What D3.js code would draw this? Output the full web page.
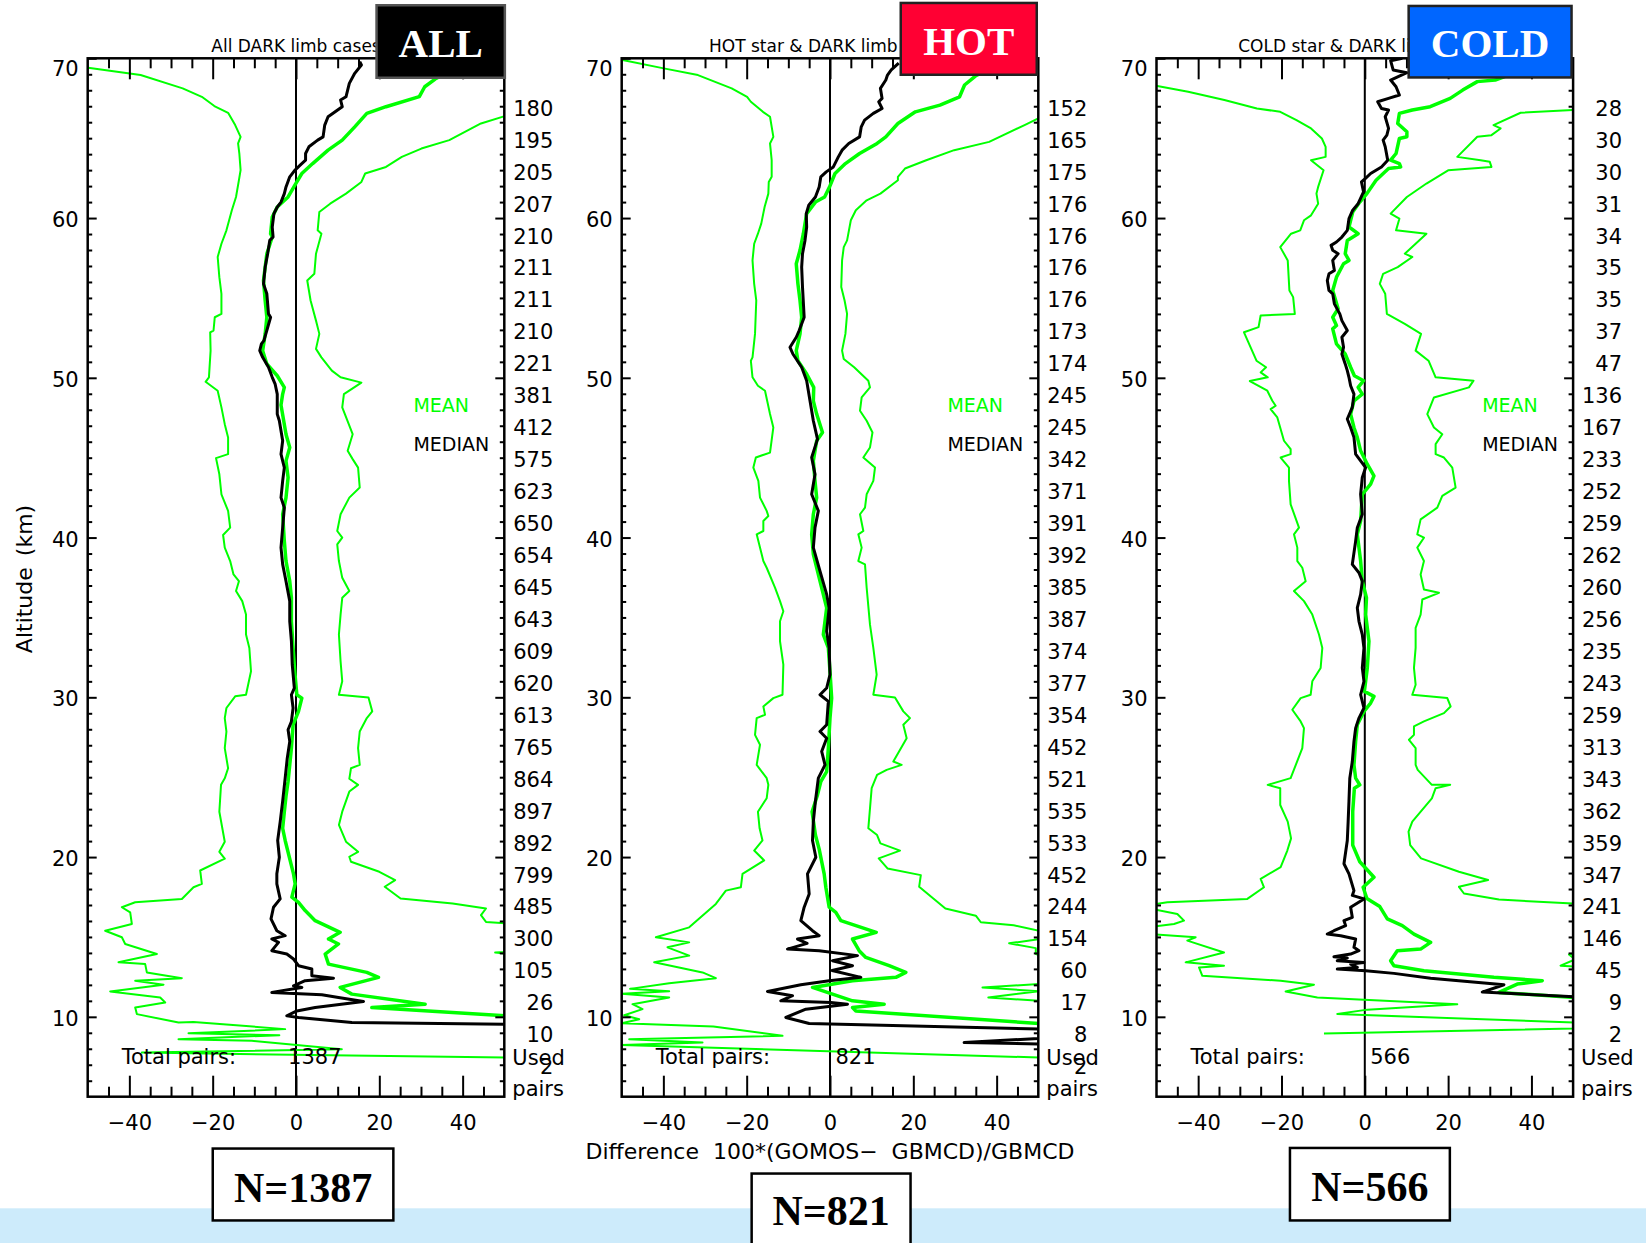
<!DOCTYPE html>
<html><head><meta charset="utf-8">
<script src="https://cdnjs.cloudflare.com/ajax/libs/d3/7.8.5/d3.min.js"></script>
<style>
html,body{margin:0;padding:0;background:#fff;}
svg{display:block;}
text{font-family:"DejaVu Sans",Verdana,sans-serif;}
text.serif{font-family:"Liberation Serif","Times New Roman",serif;font-weight:bold;}
</style></head><body>
<svg id="chart" width="1646" height="1243"></svg>
<script>
// ---------------- DATA ----------------
const panelKeys = ["ALL", "HOT", "COLD"];
const panelTitles = ["All DARK limb cases", "HOT star & DARK limb cases", "COLD star & DARK limb cases"];
const boxLabels = ["ALL", "HOT", "COLD"];
const boxColors = ["#000000", "#ff0033", "#0066ff"];
const nLabels = ["N=1387", "N=821", "N=566"];
const totalPairs = [1387, 821, 566];
const xTickLabels = [-40, -20, 0, 20, 40];
const altTickLabels = [10, 20, 30, 40, 50, 60, 70];
const pairAlts = [67,65,63,61,59,57,55,53,51,49,47,45,43,41,39,37,35,33,31,29,27,25,23,21,19,17,15,13,11,9,7];

const usedAll  = [180,195,205,207,210,211,211,210,221,381,412,575,623,650,654,645,643,609,620,613,765,864,897,892,799,485,300,105,26,10,2];
const usedHot  = [152,165,175,176,176,176,176,173,174,245,245,342,371,391,392,385,387,374,377,354,452,521,535,533,452,244,154,60,17,8,2];
const usedCold = [28,30,30,31,34,35,35,37,47,136,167,233,252,259,262,260,256,235,243,259,313,343,362,359,347,241,146,45,9,2];

// series as [difference %, altitude km]
const allLow = [[-49.9,69.41],[-37.3,68.95],[-27.2,68.12],[-22.6,67.59],[-19.6,67.01],[-16.3,66.59],[-14.6,65.82],[-13.3,65.08],[-13.9,64.67],[-13.6,64.04],[-13.3,63.0],[-13.7,62.37],[-14.4,61.32],[-15.4,60.49],[-16.7,59.23],[-17.9,58.39],[-18.8,57.56],[-18.4,56.30],[-17.9,55.26],[-17.9,54.0],[-19.5,53.79],[-19.8,52.96],[-20.6,52.85],[-20.5,51.70],[-20.9,50.03],[-21.7,49.75],[-18.8,49.19],[-17.9,48.15],[-17.1,47.1],[-16.3,46.27],[-16.3,45.22],[-19.2,44.97],[-18.4,43.96],[-17.9,42.71],[-16.3,41.67],[-15.8,40.62],[-17.5,40.16],[-17.1,39.37],[-15.8,38.53],[-15.0,37.69],[-13.7,37.27],[-14.4,36.65],[-12.9,36.02],[-12.0,35.18],[-12.0,33.93],[-11.2,33.09],[-10.8,31.63],[-12.0,30.16],[-14.6,30.06],[-16.7,29.33],[-17.1,28.7],[-16.7,27.86],[-17.1,26.82],[-16.3,25.56],[-17.1,24.93],[-18.0,24.52],[-18.4,22.84],[-17.1,20.96],[-18.4,20.33],[-17.1,19.9],[-23.0,19.16],[-22.6,18.32],[-24.6,18.11],[-27.4,17.38],[-38.6,17.17],[-41.8,16.86],[-39.8,16.54],[-39.4,15.81],[-45.8,15.39],[-41.8,14.98],[-41.0,14.56],[-33.4,13.93],[-42.6,13.41],[-36.2,13.30],[-35.8,12.78],[-27.4,12.42],[-38.6,12.26],[-31.8,12.01],[-44.6,11.59],[-32.6,11.21],[-31.4,10.90],[-38.6,10.58],[-38.2,10.17],[-28.2,9.64],[-24.6,9.68],[-2.6,9.23],[-25.8,8.97],[-4.0,8.85],[-28.2,8.6],[-10.6,8.5],[11.0,7.97],[-37.0,7.76],[55,7.43]];
const allHigh = [[60,67.0],[50.1,66.38],[44.4,65.92],[36.8,64.88],[30.1,64.35],[25.4,63.83],[21.6,63.2],[16.6,62.79],[15.7,62.26],[12.0,61.53],[8.2,60.9],[5.6,60.38],[5.2,59.23],[6.1,59.02],[4.8,57.77],[4.4,56.51],[2.7,56.09],[3.5,54.84],[4.8,53.58],[5.6,52.75],[4.8,51.81],[6.1,51.28],[8.6,50.45],[10.7,50.03],[15.7,49.7],[11.5,48.98],[11.1,48.15],[13.6,46.47],[12.4,45.43],[13.6,44.91],[14.9,44.38],[15.3,43.13],[12.8,42.5],[10.7,41.46],[9.9,40.41],[11.1,39.99],[9.9,39.57],[10.3,38.53],[11.1,37.48],[12.8,36.65],[11.1,36.23],[10.7,35.18],[10.3,33.93],[10.7,32.25],[11.1,31.0],[10.3,30.16],[17.4,29.99],[18.3,29.12],[17.0,28.7],[15.3,27.86],[14.9,26.82],[15.3,25.77],[13.2,25.56],[12.8,24.9],[14.9,24.52],[12.8,24.1],[11.1,22.84],[10.3,22.01],[12.0,20.96],[14.9,20.33],[12.8,20.02],[13.2,19.71],[20.0,19.08],[23.8,18.56],[21.3,18.14],[25.1,17.41],[37.6,17.09],[45.6,16.78],[44.4,16.36],[45.6,15.94],[50.2,15.85],[60,15.4],[60,14.2],[47.8,14.03],[60,13.7],[70,12]];
const allMean = [[40,69.6],[33.4,68.70],[30.9,68.22],[29.6,67.6],[21.6,66.97],[17.0,66.55],[14.1,65.71],[11.1,64.88],[7.7,64.25],[4.0,63.41],[1.4,62.79],[-0.3,62.05],[-1.9,61.32],[-4.5,60.69],[-5.7,60.07],[-6.1,59.02],[-5.7,58.81],[-7.0,57.77],[-7.8,56.09],[-7.4,54.84],[-7.0,53.79],[-7.4,52.75],[-8.0,51.70],[-7.0,50.87],[-4.5,50.13],[-2.8,49.4],[-3.2,48.98],[-3.6,48.3],[-2.4,46.47],[-1.5,45.64],[-2.4,44.8],[-1.9,43.76],[-2.4,42.5],[-3.2,41.46],[-2.8,39.78],[-2.4,38.53],[-1.5,37.27],[-1.1,36.23],[-1.1,34.76],[-0.7,33.09],[-0.3,31.63],[0.2,30.16],[1.4,29.95],[0.6,29.12],[-0.7,28.28],[-1.1,26.82],[-1.5,25.77],[-1.9,24.73],[-2.4,23.8],[-2.8,22.84],[-3.2,21.8],[-2.6,21.04],[-0.6,18.95],[-0.2,18.32],[-1.0,17.49],[0.6,17.17],[2.2,16.65],[4.6,16.02],[10.6,15.29],[7.8,14.87],[10.2,14.56],[7.0,13.93],[7.8,13.30],[17.0,12.78],[19.8,12.47],[10.6,11.84],[13.4,11.42],[31.0,10.79],[18.2,10.58],[50.2,10.06],[70,9.8]];
const allMedian = [[15.3,69.79],[15.7,69.58],[14.1,69.06],[12.8,68.43],[12.0,67.59],[10.7,67.39],[11.1,66.97],[9.4,66.65],[7.7,66.34],[6.9,65.82],[6.5,65.08],[5.2,64.88],[3.1,64.46],[2.3,64.04],[2.3,63.62],[1.0,63.31],[-0.3,62.99],[-1.5,62.58],[-2.4,61.95],[-2.8,61.53],[-3.6,61.0],[-4.5,60.69],[-5.3,60.28],[-5.7,59.44],[-5.5,58.81],[-6.3,58.6],[-6.8,57.77],[-7.4,56.93],[-7.8,55.88],[-7.0,55.26],[-6.6,54.0],[-6.1,53.79],[-7.7,52.33],[-8.3,52.12],[-8.7,51.70],[-8.0,51.28],[-6.6,50.66],[-5.7,50.03],[-5.0,49.6],[-4.5,48.98],[-4.5,47.73],[-4.0,47.31],[-3.2,46.06],[-3.6,45.22],[-2.8,44.38],[-3.2,43.55],[-3.6,42.5],[-2.8,41.87],[-3.2,40.62],[-3.6,39.37],[-3.2,38.32],[-2.4,37.27],[-1.5,36.02],[-1.5,34.76],[-1.1,33.51],[-0.9,32.04],[-0.4,30.58],[-1.1,30.16],[-0.7,29.33],[-1.1,28.49],[-1.9,27.97],[-1.5,27.24],[-2.1,26.19],[-2.6,24.94],[-3.2,23.5],[-3.8,22.2],[-4.4,21.04],[-4.0,19.99],[-4.6,18.95],[-4.6,18.32],[-3.8,17.38],[-5.4,16.86],[-6.0,16.13],[-4.6,15.39],[-2.6,15.08],[-5.8,14.87],[-4.2,14.66],[-5.8,14.14],[-2.2,13.93],[-0.6,13.62],[0.6,13.20],[3.8,12.99],[3.8,12.57],[9.0,12.42],[2.2,12.26],[-0.6,11.94],[1.4,11.84],[-5.8,11.53],[6.2,11.38],[10.2,11.21],[16.2,10.96],[4.6,10.58],[0.2,10.37],[-2.2,10.06],[0.6,9.96],[13.4,9.64],[50.2,9.54],[60,9.5]];

const hotLow = [[-49.8,69.9],[-39.9,69.37],[-31.7,68.95],[-23.6,68.12],[-19.9,67.59],[-19.0,67.28],[-16.1,66.65],[-14.4,66.34],[-13.6,65.08],[-14.4,64.67],[-14.0,63.62],[-14.0,62.58],[-14.7,62.26],[-14.8,61.53],[-15.7,60.69],[-16.5,59.65],[-17.3,59.02],[-18.2,58.39],[-18.6,57.35],[-18.2,55.88],[-17.7,54.84],[-18.0,52.75],[-18.6,51.28],[-19.0,51.07],[-18.6,50.03],[-17.3,49.5],[-15.6,49.19],[-14.4,47.73],[-13.6,46.89],[-14.4,45.32],[-17.8,45.01],[-18.4,44.38],[-17.2,43.55],[-16.8,42.5],[-15.2,41.67],[-14.8,41.35],[-16.0,41.04],[-16.0,40.41],[-17.6,40.2],[-16.4,38.95],[-16.0,38.53],[-15.2,38.11],[-13.2,36.86],[-12.0,36.02],[-11.2,35.39],[-12.0,34.76],[-12.0,33.51],[-11.2,32.04],[-11.4,30.16],[-13.6,29.95],[-16.0,29.43],[-15.6,28.91],[-17.6,28.7],[-18.0,27.65],[-16.8,27.03],[-17.6,25.77],[-15.2,24.94],[-14.8,24.52],[-15.2,23.68],[-17.3,22.84],[-16.9,21.80],[-16.2,21.04],[-18.2,20.41],[-15.8,19.79],[-21.0,18.95],[-21.4,18.11],[-25.0,17.9],[-27.4,17.07],[-33.8,15.6],[-41.8,14.98],[-33.8,14.66],[-39.0,14.35],[-33.8,13.83],[-42.2,13.41],[-30.6,12.78],[-27.4,12.42],[-38.6,12.1],[-48,11.75],[-38.6,11.6],[-50,11.45],[-38.6,11.21],[-47.4,10.79],[-45.0,10.48],[-49.4,10.1],[-45.8,9.85],[-50,9.6],[-28,9.4],[-11.4,8.81],[-48.2,8.6],[-30.6,8.39],[-50,8.24],[50.2,7.45],[60,7.43]];
const hotHigh = [[60,67],[50.0,66.24],[46.7,65.82],[38.2,64.77],[29.8,64.25],[23.1,63.62],[18.0,63.1],[16.3,62.58],[16.3,62.37],[12.1,61.53],[8.8,61.11],[6.2,60.49],[5.0,59.86],[4.1,58.6],[3.3,58.18],[2.9,57.35],[2.7,55.68],[3.5,54.84],[4.1,54.0],[3.7,52.75],[2.9,51.70],[3.3,51.18],[5.8,50.66],[9.2,49.82],[9.6,49.40],[7.6,48.77],[7.2,47.94],[8.8,47.31],[10.2,46.58],[9.6,45.64],[8.0,45.01],[10.8,44.38],[10.4,43.55],[8.8,42.71],[8.4,41.87],[7.2,41.46],[8.0,40.41],[6.8,40.2],[7.6,39.37],[6.8,38.53],[8.4,38.32],[8.8,36.86],[9.6,34.55],[10.4,33.09],[11.2,31.42],[10.4,30.16],[15.6,29.99],[17.6,29.12],[19.2,28.7],[17.6,28.28],[18.4,27.44],[15.2,25.98],[17.2,25.77],[13.6,25.46],[11.3,25.14],[10.0,24.31],[9.6,23.05],[9.2,21.8],[11.3,21.38],[12.1,20.86],[16.8,20.4],[11.7,19.92],[13.8,19.29],[21.8,18.87],[21.4,18.14],[24.8,17.41],[27.7,16.78],[35.0,16.33],[36.2,15.92],[44.1,15.73],[50.2,15.39],[55,15.2],[50,14.85],[43.0,14.6],[49.4,14.3],[49.4,13.93],[55,13.5],[55,12.2],[50.2,12.05],[36.6,11.84],[50.2,11.6],[38.0,11.21],[50.2,11.0],[60,10.5]];
const hotMean = [[38,69.3],[34.9,68.89],[32.3,68.33],[31.1,67.59],[26.4,67.07],[20.5,66.65],[16.3,65.92],[13.4,65.08],[11.3,64.67],[7.1,64.04],[3.7,63.41],[1.2,62.79],[-0.1,61.95],[-1.3,61.32],[-3.5,61.0],[-5.6,60.28],[-6.4,59.02],[-7.2,57.98],[-8.1,57.14],[-7.7,55.88],[-7.2,54.84],[-6.8,53.79],[-7.2,52.75],[-8.1,51.70],[-7.7,51.07],[-5.6,50.24],[-3.9,49.4],[-4.0,48.56],[-3.2,47.73],[-1.8,46.58],[-3.2,46.06],[-4.0,44.8],[-3.6,43.55],[-3.2,42.5],[-4.0,41.46],[-4.4,40.2],[-4.0,38.95],[-2.4,37.27],[-0.8,35.6],[-1.6,33.93],[-0.4,33.09],[0.0,31.63],[0.4,29.95],[0.0,28.7],[-0.4,26.82],[-0.8,25.35],[-2.2,24.73],[-3.0,23.89],[-4.3,22.84],[-3.5,21.38],[-2.6,20.5],[-1.4,18.95],[-1.0,18.11],[-0.2,16.86],[1.4,16.54],[2.6,16.02],[11.1,15.29],[5.4,14.87],[7.0,14.14],[8.6,13.72],[14.2,13.20],[18.2,12.78],[15.8,12.47],[5.4,12.26],[-4.2,11.84],[5.4,11.0],[13.0,10.79],[5.4,10.58],[6.2,10.37],[50.2,9.58],[70,9.3]];
const hotMedian = [[16.5,69.7],[14.7,69.27],[13.8,68.95],[13.4,68.64],[12.1,68.12],[12.5,67.49],[11.7,67.28],[12.5,66.86],[10.4,66.55],[8.3,66.13],[7.5,65.71],[7.1,65.08],[4.5,64.67],[2.9,64.25],[2.0,63.83],[0.8,63.2],[-0.9,62.89],[-2.2,62.58],[-2.6,61.95],[-3.5,61.32],[-5.1,60.8],[-5.7,60.28],[-5.6,59.44],[-6.0,58.6],[-6.6,57.77],[-6.8,56.93],[-6.6,55.68],[-6.2,53.79],[-7.4,52.96],[-8.1,52.54],[-9.6,51.91],[-8.9,51.49],[-6.8,50.66],[-5.6,49.82],[-4.8,48.56],[-4.0,47.31],[-3.0,46.16],[-4.4,45.01],[-3.6,43.96],[-4.4,42.71],[-2.8,41.67],[-3.6,40.62],[-4.0,39.37],[-2.4,37.9],[-0.8,36.44],[-0.2,35.6],[-0.8,34.14],[-0.2,33.09],[0.0,31.42],[-0.8,30.58],[-2.4,30.16],[-0.4,29.75],[-0.8,28.28],[-2.4,27.86],[-0.8,27.44],[-2.0,26.61],[-1.2,25.77],[-2.8,24.94],[-3.5,23.5],[-4.0,22.2],[-4.2,21.04],[-3.4,19.99],[-5.4,18.95],[-5.0,17.69],[-6.2,16.86],[-7.0,16.02],[-4.2,15.39],[-2.6,15.08],[-7.8,14.87],[-5.5,14.6],[-10.2,14.24],[-2.6,14.14],[6.6,13.83],[0.6,13.51],[5.4,13.2],[0.5,12.9],[7.4,12.47],[-0.2,12.26],[-7.0,12.01],[-15.0,11.59],[-9.0,11.32],[-11.8,11.0],[0.2,10.9],[4.2,10.79],[-5.8,10.48],[-10.6,9.96],[-5.0,9.58],[50.2,9.23],[60,9.0],[50,8.65],[32.2,8.39],[50,8.3],[60,8.2]];

const coldLow = [[-55,68.4],[-49.8,68.26],[-42.4,67.91],[-33.7,67.39],[-25.9,66.86],[-20.3,66.65],[-16.4,66.13],[-12.9,65.61],[-10.3,64.98],[-9.4,64.46],[-9.4,63.83],[-12.9,63.62],[-9.9,62.99],[-11.2,61.95],[-11.6,61.53],[-11.2,60.9],[-12.9,60.17],[-14.6,59.86],[-15.5,59.23],[-17.7,59.02],[-20.3,58.18],[-18.5,57.35],[-18.1,55.47],[-17.2,55.05],[-16.8,54.0],[-25.0,53.9],[-25.5,53.17],[-29.0,52.85],[-26.0,51.07],[-23.7,50.66],[-25.0,50.34],[-23.3,50.03],[-27.6,49.8],[-23.4,49.19],[-22.2,48.56],[-21.4,48.25],[-22.6,48.04],[-21.0,47.52],[-19.4,46.06],[-17.8,45.53],[-17.8,45.22],[-20.2,45.01],[-18.2,44.38],[-18.2,43.55],[-17.8,42.08],[-15.8,40.62],[-17.0,40.2],[-16.2,39.37],[-16.2,38.53],[-15.0,38.11],[-14.2,37.27],[-17.0,36.65],[-14.6,36.02],[-12.6,35.18],[-11.0,33.93],[-10.2,33.09],[-10.6,31.84],[-12.6,31.0],[-13.0,30.16],[-15.4,29.95],[-17.4,29.22],[-15.4,28.49],[-14.6,28.07],[-15.0,26.82],[-17.8,24.94],[-23.3,24.52],[-20.3,24.31],[-20.3,23.26],[-18.5,22.22],[-17.7,21.17],[-18.6,20.41],[-20.2,19.37],[-25.0,18.64],[-24.2,18.11],[-28.2,17.38],[-47.4,17.17],[-52,17.0],[-52,16.8],[-45.0,16.44],[-43.4,16.02],[-45.8,15.81],[-52,15.6],[-52,15.18],[-40.6,14.98],[-42.6,14.77],[-33.8,14.03],[-43.0,13.41],[-33.8,13.20],[-39.8,13.09],[-39.0,12.57],[-20.2,12.26],[-12.2,12.01],[-19.0,11.59],[-11.4,11.21],[22.2,10.79],[0.6,10.45],[-6.6,10.17],[50.2,9.64],[65,9.35],[-9.8,8.95]];
const coldHigh = [[60,66.9],[49.9,66.76],[37.4,66.59],[30.9,65.82],[32.6,65.61],[30.4,65.19],[27.0,65.09],[22.2,63.83],[27.8,63.62],[30.0,63.52],[30.4,63.2],[20.0,62.99],[14.8,62.16],[10.1,61.32],[6.2,60.28],[8.3,59.96],[7.5,59.23],[14.8,59.02],[12.2,58.39],[9.6,57.77],[11.4,57.56],[7.9,56.93],[4.4,56.51],[3.6,55.88],[4.9,55.26],[5.3,54.0],[9.6,53.38],[13.5,52.75],[12.2,51.70],[15.3,51.07],[17.0,50.03],[26.1,49.82],[25.0,49.4],[16.6,48.77],[15.0,47.73],[16.6,46.89],[18.6,46.47],[17.0,45.85],[17.0,45.22],[19.0,45.01],[21.0,44.38],[21.8,43.13],[18.6,42.61],[17.4,41.87],[13.4,41.14],[12.6,40.2],[14.2,39.99],[12.6,39.37],[14.2,38.53],[13.4,37.69],[14.2,36.75],[17.8,36.54],[13.8,36.12],[13.4,35.18],[12.2,34.35],[12.2,33.09],[11.8,31.84],[12.2,30.79],[11.4,30.16],[19.8,29.95],[20.6,29.43],[19.0,29.01],[14.2,28.49],[11.8,28.18],[11.8,27.65],[10.6,27.34],[12.2,26.82],[12.2,25.77],[12.7,25.46],[16.1,24.52],[20.5,24.52],[17.0,24.31],[16.1,23.68],[11.4,22.22],[10.5,21.59],[10.9,20.75],[13.5,19.92],[22.6,19.08],[29.6,18.56],[22.6,18.14],[23.8,17.72],[32.2,17.34],[49.9,17.09],[60,17.0],[60,14.2],[49.0,13.9],[50.5,13.6],[47,13.2],[60,13.0]];
const coldMean = [[35,69.0],[31.3,68.64],[27.0,68.54],[23.5,68.01],[20.5,67.49],[15.7,66.97],[11.4,66.76],[8.3,66.55],[7.9,65.92],[10.1,65.4],[10.1,65.09],[8.3,64.98],[7.5,64.04],[6.2,63.62],[8.3,63.41],[8.6,63.2],[5.7,63.1],[2.7,62.37],[0.5,61.53],[-1.2,61.0],[-2.9,60.38],[-3.8,59.44],[-1.6,59.02],[-4.2,58.6],[-4.7,57.77],[-3.8,57.35],[-5.1,57.14],[-6.8,56.30],[-7.7,55.47],[-6.4,54.32],[-7.7,53.79],[-6.8,53.27],[-7.7,53.06],[-6.8,52.12],[-4.7,51.49],[-3.4,50.66],[-2.5,50.13],[-0.3,49.82],[-1.6,49.4],[-0.6,48.98],[-2.6,48.56],[-3.4,47.73],[-2.6,46.89],[-1.8,46.27],[-1.0,45.43],[0.6,44.59],[2.2,43.86],[1.4,43.34],[-0.6,42.71],[-1.0,41.04],[-1.8,40.2],[-1.0,38.53],[-0.6,37.27],[0.4,36.23],[0.2,35.18],[1.0,33.51],[0.6,31.84],[-0.1,30.37],[2.2,30.06],[1.4,29.64],[-0.2,29.12],[-1.8,28.28],[-2.2,27.24],[-2.6,25.77],[-2.2,24.94],[-1.2,24.52],[-2.5,24.31],[-2.9,22.84],[-2.9,20.75],[-1.2,19.71],[2.2,18.74],[-0.4,18.11],[0.5,17.41],[3.6,16.9],[5.4,16.13],[9.0,15.71],[11.8,15.18],[15.8,14.66],[13.4,14.24],[7.8,14.14],[6.2,13.51],[7.0,13.20],[14.2,12.88],[31.0,12.47],[42.6,12.26],[36.6,12.05],[32.2,11.53],[50.2,11.21],[60,11.0]];
const coldMedian = [[9,70],[6.2,69.85],[6.8,69.27],[10.1,69.1],[6.2,68.64],[7.5,68.22],[8.3,67.7],[5.7,67.49],[3.1,67.28],[4.0,66.86],[5.7,66.76],[4.9,66.34],[5.7,65.61],[5.3,65.19],[4.4,64.88],[4.9,64.46],[5.5,63.62],[4.0,63.2],[1.4,62.79],[0.1,62.47],[-0.8,62.26],[-0.3,61.64],[-1.6,60.9],[-2.9,60.49],[-3.8,59.96],[-4.2,59.23],[-5.5,58.81],[-6.8,58.5],[-8.1,58.29],[-7.7,57.98],[-6.4,57.77],[-7.7,57.35],[-7.3,56.72],[-8.6,56.51],[-9.0,56.09],[-8.6,55.47],[-7.7,55.26],[-7.3,54.63],[-6.0,54.0],[-5.5,53.58],[-4.2,52.96],[-5.5,52.54],[-5.1,51.91],[-5.5,51.49],[-4.7,50.87],[-4.2,50.45],[-3.8,50.03],[-3.4,49.5],[-2.6,48.98],[-3.0,48.15],[-4.2,47.42],[-3.4,46.89],[-2.6,46.27],[-2.2,45.22],[-1.0,44.8],[0.2,44.38],[-0.6,43.76],[-1.0,42.71],[-0.6,41.46],[-1.8,40.62],[-2.2,39.78],[-3.0,38.32],[-1.4,37.8],[-0.6,37.27],[-1.0,36.44],[-1.8,35.6],[-1.4,34.76],[-0.6,33.93],[-0.2,33.09],[-0.6,31.84],[-0.2,31.0],[-1.0,30.16],[-0.2,29.33],[-1.4,28.7],[-2.2,28.07],[-2.6,27.24],[-3.0,25.98],[-3.6,24.94],[-3.8,23.5],[-4.0,22.2],[-4.2,21.04],[-5.0,19.58],[-3.8,18.95],[-2.6,17.9],[-3.0,17.6],[-0.2,17.38],[-3.4,16.86],[-3.0,16.23],[-5.0,16.02],[-4.6,15.71],[-7.4,15.39],[-9.0,15.18],[-5.8,15.08],[-2.2,14.87],[-2.6,14.35],[-1.4,14.14],[-3.4,13.93],[-7.4,13.76],[-4.2,13.68],[-6.6,13.51],[-0.2,13.4],[-3.4,13.30],[-1.8,13.09],[-6.6,12.99],[0.2,12.88],[7.0,12.72],[15.8,12.42],[33.4,12.01],[28.2,11.55],[50.2,11.25],[60,11.1]];

const lowSeries = [allLow, hotLow, coldLow];
const highSeries = [allHigh, hotHigh, coldHigh];
const meanSeries = [allMean, hotMean, coldMean];
const medianSeries = [allMedian, hotMedian, coldMedian];
const usedSeries = [usedAll, usedHot, usedCold];

// ---------------- LAYOUT ----------------
const GREEN = "#00ff00";
const TOP = 58.3, BOTTOM = 1096.7, PW = 416.6;
const LEFTS = [87.7, 621.7, 1156.5];
const topBoxes = [[375.3, 4, 130.8, 75, 56.7], [899.5, 1.7, 138.5, 74.3, 55], [1407.4, 4.7, 165.4, 74, 56.7]];
const bottomBoxes = [[211.5, 1147.3, 183.1, 74.4, 1201.7], [750.4, 1172.3, 161.4, 95, 1225], [1288.7, 1146.7, 162.4, 75, 1200.7]];

const svg = d3.select("#chart");
svg.append("rect").attr("width", 1646).attr("height", 1243).attr("fill", "#fff");
svg.append("rect").attr("x", 0).attr("y", 1208.3).attr("width", 1646).attr("height", 40).attr("fill", "#cdebfb");

const y = d3.scaleLinear().domain([5, 70]).range([BOTTOM, TOP]);
const defs = svg.append("defs");

panelKeys.forEach((key, i) => {
  const x0 = LEFTS[i];
  const x = d3.scaleLinear().domain([-50, 50]).range([x0, x0 + PW]);
  const g = svg.append("g");

  defs.append("clipPath").attr("id", "clip" + i)
    .append("rect").attr("x", x0).attr("y", TOP).attr("width", PW).attr("height", BOTTOM - TOP);

  // title
  g.append("text").attr("x", x0 + PW / 2).attr("y", 51.7).attr("text-anchor", "middle")
    .attr("font-size", 17).text(panelTitles[i]);

  const plot = g.append("g").attr("clip-path", `url(#clip${i})`);
  plot.append("line").attr("x1", x(0)).attr("x2", x(0)).attr("y1", TOP).attr("y2", BOTTOM)
    .attr("stroke", "#000").attr("stroke-width", 2);

  const line = d3.line().x(d => x(d[0])).y(d => y(d[1]));
  plot.append("path").datum(lowSeries[i]).attr("d", line).attr("fill", "none").attr("stroke", GREEN).attr("stroke-width", 2).attr("stroke-linejoin", "round");
  plot.append("path").datum(highSeries[i]).attr("d", line).attr("fill", "none").attr("stroke", GREEN).attr("stroke-width", 2).attr("stroke-linejoin", "round");
  plot.append("path").datum(meanSeries[i]).attr("d", line).attr("fill", "none").attr("stroke", GREEN).attr("stroke-width", 3.5).attr("stroke-linejoin", "round");
  plot.append("path").datum(medianSeries[i]).attr("d", line).attr("fill", "none").attr("stroke", "#000").attr("stroke-width", 3).attr("stroke-linejoin", "round");

  // axes
  const minorX = d3.range(-45, 50, 5).filter(v => v % 20 !== 0);
  const minorY = d3.range(6, 70, 1).filter(v => v % 10 !== 0);
  const styleAxis = sel => {
    sel.select(".domain").remove();
    sel.selectAll(".tick line").attr("stroke", "#000").attr("stroke-width", 2);
    sel.selectAll("text").attr("font-size", 21).attr("fill", "#000");
  };
  g.append("g").attr("transform", `translate(0,${BOTTOM})`)
    .call(d3.axisBottom(x).tickValues(minorX).tickSize(-10).tickFormat("")).call(styleAxis);
  g.append("g").attr("transform", `translate(0,${BOTTOM})`)
    .call(d3.axisBottom(x).tickValues(xTickLabels).tickSize(-21).tickPadding(18.5)).call(styleAxis);
  g.append("g").attr("transform", `translate(0,${TOP})`)
    .call(d3.axisTop(x).tickValues(minorX).tickSize(-10).tickFormat("")).call(styleAxis);
  g.append("g").attr("transform", `translate(0,${TOP})`)
    .call(d3.axisTop(x).tickValues(xTickLabels).tickSize(-21).tickFormat("")).call(styleAxis);

  g.append("g").attr("transform", `translate(${x0},0)`)
    .call(d3.axisLeft(y).tickValues(minorY).tickSize(-4.5).tickFormat("")).call(styleAxis);
  const la = g.append("g").attr("transform", `translate(${x0},0)`)
    .call(d3.axisLeft(y).tickValues(altTickLabels).tickSize(-9).tickPadding(9)).call(styleAxis);
  la.selectAll("text").attr("dy", d => d === 70 ? "0.8em" : "0.41em");
  g.append("g").attr("transform", `translate(${x0 + PW},0)`)
    .call(d3.axisRight(y).tickValues(minorY).tickSize(-4.5).tickFormat("")).call(styleAxis);
  g.append("g").attr("transform", `translate(${x0 + PW},0)`)
    .call(d3.axisRight(y).tickValues(altTickLabels).tickSize(-9).tickFormat("")).call(styleAxis);

  // frame
  g.append("rect").attr("x", x0).attr("y", TOP).attr("width", PW).attr("height", BOTTOM - TOP)
    .attr("fill", "none").attr("stroke", "#000").attr("stroke-width", 2.5);

  // used pairs labels
  usedSeries[i].forEach((v, k) => {
    g.append("text").attr("x", x0 + PW + 49).attr("y", y(pairAlts[k]) + 9.5)
      .attr("text-anchor", "end").attr("font-size", 21).text(v);
  });
  g.append("text").attr("x", x0 + PW + 8).attr("y", 1065).attr("font-size", 21).text("Used");
  g.append("text").attr("x", x0 + PW + 8).attr("y", 1096).attr("font-size", 21).text("pairs");

  // total pairs
  g.append("text").attr("x", x0 + 34).attr("y", 1064).attr("font-size", 21).text("Total pairs:");
  g.append("text").attr("x", x(0) + 45.5).attr("y", 1064).attr("font-size", 21).attr("text-anchor", "end").text(totalPairs[i]);

  // legend
  g.append("text").attr("x", x0 + 325.7).attr("y", 411.5).attr("font-size", 19).attr("fill", GREEN).text("MEAN");
  g.append("text").attr("x", x0 + 325.7).attr("y", 451).attr("font-size", 19).attr("fill", "#000").text("MEDIAN");

  // top label box
  const tb = topBoxes[i];
  svg.append("rect").attr("x", tb[0] + 1.25).attr("y", tb[1] + 1.25).attr("width", tb[2] - 2.5).attr("height", tb[3] - 2.5)
    .attr("fill", boxColors[i]).attr("stroke", i === 0 ? "#555" : "#222").attr("stroke-width", 2.5);
  svg.append("text").attr("class", "serif").attr("x", tb[0] + tb[2] / 2).attr("y", tb[4]).attr("text-anchor", "middle")
    .attr("font-size", 41).attr("fill", "#fff").text(boxLabels[i]);

  // bottom N box
  const bb = bottomBoxes[i];
  svg.append("rect").attr("x", bb[0] + 1.25).attr("y", bb[1] + 1.25).attr("width", bb[2] - 2.5).attr("height", bb[3] - 2.5)
    .attr("fill", "#fff").attr("stroke", "#000").attr("stroke-width", 2.5);
  svg.append("text").attr("class", "serif").attr("x", bb[0] + bb[2] / 2).attr("y", bb[4]).attr("text-anchor", "middle")
    .attr("font-size", 42).attr("fill", "#000").text(nLabels[i]);
});

// axis titles
svg.append("text").attr("transform", "translate(32,579) rotate(-90)").attr("text-anchor", "middle")
  .attr("font-size", 22).attr("word-spacing", 4).text("Altitude (km)");
svg.append("text").attr("x", LEFTS[1] + PW / 2).attr("y", 1159).attr("text-anchor", "middle")
  .attr("font-size", 22).style("white-space", "pre").text("Difference  100*(GOMOS\u2212  GBMCD)/GBMCD");
</script>
</body></html>
